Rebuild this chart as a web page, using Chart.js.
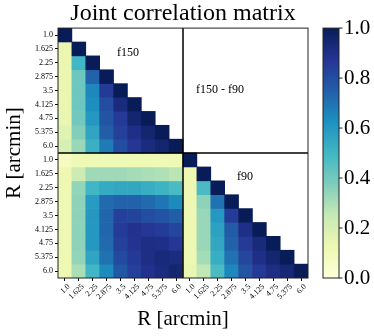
<!DOCTYPE html>
<html>
<head>
<meta charset="UTF-8">
<title>Joint correlation matrix</title>
<script src="https://cdn.jsdelivr.net/npm/chart.js"></script>
<style>
  html, body { margin: 0; padding: 0; background: #fff; }
  #wrap { width: 374px; height: 336px; }
</style>
</head>
<body>
<div id="wrap"><canvas id="myChart"></canvas></div>
<script>
// radial bins, repeated for the two frequency blocks
const radii = ['1.0', '1.625', '2.25', '2.875', '3.5', '4.125', '4.75', '5.375', '6.0'];
const tickLabels = radii.concat(radii);

// f150 x f150, lower triangle (row by row, incl. diagonal)
const f150 = [
  [1.0],
  [0.13, 1.0],
  [0.13, 0.50, 1.0],
  [0.13, 0.41, 0.74, 1.0],
  [0.13, 0.41, 0.65, 0.86, 1.0],
  [0.13, 0.41, 0.63, 0.80, 0.92, 1.0],
  [0.14, 0.40, 0.60, 0.78, 0.86, 0.95, 1.0],
  [0.17, 0.37, 0.56, 0.75, 0.84, 0.90, 0.95, 1.0],
  [0.20, 0.33, 0.52, 0.68, 0.80, 0.87, 0.92, 0.95, 1.0]
];

// f90 x f90, lower triangle
const f90 = [
  [1.0],
  [0.12, 1.0],
  [0.12, 0.48, 1.0],
  [0.12, 0.35, 0.70, 1.0],
  [0.12, 0.33, 0.60, 0.85, 1.0],
  [0.12, 0.33, 0.57, 0.76, 0.90, 1.0],
  [0.12, 0.33, 0.55, 0.74, 0.86, 0.93, 1.0],
  [0.12, 0.31, 0.53, 0.70, 0.82, 0.90, 0.95, 1.0],
  [0.14, 0.26, 0.48, 0.65, 0.78, 0.86, 0.91, 0.94, 1.0]
];

// f90 rows x f150 columns (full block)
const cross = [
  [0.07, 0.11, 0.11, 0.11, 0.11, 0.11, 0.11, 0.11, 0.11],
  [0.12, 0.23, 0.32, 0.32, 0.32, 0.31, 0.30, 0.29, 0.27],
  [0.12, 0.34, 0.50, 0.54, 0.55, 0.55, 0.53, 0.51, 0.48],
  [0.12, 0.35, 0.59, 0.72, 0.74, 0.74, 0.72, 0.69, 0.64],
  [0.12, 0.35, 0.60, 0.73, 0.84, 0.83, 0.80, 0.78, 0.75],
  [0.12, 0.35, 0.60, 0.73, 0.85, 0.89, 0.87, 0.85, 0.82],
  [0.12, 0.35, 0.60, 0.72, 0.84, 0.88, 0.91, 0.90, 0.87],
  [0.12, 0.34, 0.56, 0.70, 0.81, 0.86, 0.91, 0.93, 0.92],
  [0.12, 0.30, 0.50, 0.64, 0.77, 0.84, 0.89, 0.92, 0.95]
];

const colorbarTicks = [0, 0.2, 0.4, 0.6, 0.8, 1.0];

// YlGnBu colormap
const YLGNBU = ['#ffffd9', '#edf8b1', '#c7e9b4', '#7fcdbb', '#41b6c4', '#1d91c0', '#225ea8', '#253494', '#081d58'];
function hexRgb(h) {
  return [parseInt(h.slice(1, 3), 16), parseInt(h.slice(3, 5), 16), parseInt(h.slice(5, 7), 16)];
}
function ylgnbu(v) {
  const t = Math.max(0, Math.min(1, v)) * (YLGNBU.length - 1);
  const i = Math.min(Math.floor(t), YLGNBU.length - 2);
  const f = t - i;
  const a = hexRgb(YLGNBU[i]), b = hexRgb(YLGNBU[i + 1]);
  const c = a.map((ai, k) => Math.round(ai + (b[k] - ai) * f));
  return 'rgb(' + c.join(',') + ')';
}

// full 18x18 matrix, null = empty cell
const n = radii.length;
const matrix = tickLabels.map((_, i) => tickLabels.map((_, j) => {
  if (i < n && j < n) return j <= i ? f150[i][j] : null;
  if (i < n) return null;
  if (j < n) return cross[i - n][j];
  return j <= i ? f90[i - n][j - n] : null;
}));

const serif = "'Liberation Serif', 'DejaVu Serif', serif";

const datasets = matrix.map((row, i) => ({
  label: tickLabels[i],
  data: row.map(() => 1),
  backgroundColor: row.map(v => v === null ? 'rgba(0,0,0,0)' : ylgnbu(v)),
  borderWidth: 0,
  categoryPercentage: 1,
  barPercentage: 1,
  yAxisID: 'y'
}));

// no automatic label overflow padding around the plot
function noPad(s) {
  s.paddingTop = 0; s.paddingBottom = 0; s.paddingLeft = 0; s.paddingRight = 0;
}

const decor = {
  id: 'decor',
  afterDatasetsDraw(chart) {
    const { ctx, chartArea: a, scales: { x, y } } = chart;
    ctx.save();
    // block separators
    const xm = x.getPixelForValue(n - 0.5);
    const ym = y.getPixelForValue(n);
    ctx.strokeStyle = '#000';
    ctx.lineWidth = 1.5;
    ctx.beginPath();
    ctx.moveTo(xm, a.top); ctx.lineTo(xm, a.bottom);
    ctx.moveTo(a.left, ym); ctx.lineTo(a.right, ym);
    ctx.stroke();
    // frame
    ctx.lineWidth = 1;
    ctx.strokeStyle = '#222';
    ctx.strokeRect(a.left, a.top, a.right - a.left, a.bottom - a.top);
    // block labels
    ctx.fillStyle = '#000';
    ctx.font = '12px ' + serif;
    ctx.textAlign = 'center';
    ctx.textBaseline = 'middle';
    ctx.fillText('f150', x.getPixelForValue(4.54), y.getPixelForValue(1.8));
    ctx.fillText('f150 - f90', x.getPixelForValue(11.16), y.getPixelForValue(4.46));
    ctx.fillText('f90', x.getPixelForValue(12.96), y.getPixelForValue(10.73));
    ctx.restore();
  },
  afterDraw(chart) {
    const { ctx, chartArea: a, scales: { cb } } = chart;
    const left = a.right + 15, w = 16;
    const top = cb.getPixelForValue(1), bottom = cb.getPixelForValue(0);
    ctx.save();
    const g = ctx.createLinearGradient(0, bottom, 0, top);
    YLGNBU.forEach((c, i) => g.addColorStop(i / (YLGNBU.length - 1), c));
    ctx.fillStyle = g;
    ctx.fillRect(left, top, w, bottom - top);
    ctx.strokeStyle = '#222';
    ctx.lineWidth = 1;
    ctx.strokeRect(left, top, w, bottom - top);
    ctx.beginPath();
    colorbarTicks.forEach(v => {
      const py = cb.getPixelForValue(v);
      ctx.moveTo(left + w, py); ctx.lineTo(left + w + 3.5, py);
    });
    ctx.stroke();
    ctx.restore();
  }
};

new Chart(document.getElementById('myChart'), {
  type: 'bar',
  data: { labels: tickLabels, datasets: datasets },
  options: {
    responsive: true,
    maintainAspectRatio: false,
    animation: false,
    layout: { padding: 0 },
    plugins: {
      legend: { display: false },
      tooltip: { enabled: false },
      title: {
        display: true,
        text: 'Joint correlation matrix',
        fullSize: false,
        color: '#000',
        font: { family: serif, size: 24, weight: 'normal', lineHeight: 1.15 },
        padding: { top: 0, bottom: 0.5 }
      }
    },
    scales: {
      x: {
        type: 'category',
        stacked: true,
        grid: { offset: false, drawOnChartArea: false, tickLength: 3, color: '#000' },
        border: { display: false },
        ticks: {
          autoSkip: false, maxRotation: 45, minRotation: 45,
          labelOffset: 4, padding: 1, color: '#000',
          font: { family: serif, size: 8 }
        },
        title: { display: true, text: 'R [arcmin]', color: '#000', font: { family: serif, size: 21 }, padding: { top: 0, bottom: 4 } },
        afterFit: s => { s.height = 58; noPad(s); }
      },
      y: {
        type: 'linear',
        stacked: true,
        reverse: true,
        min: 0,
        max: tickLabels.length,
        afterBuildTicks: s => { s.ticks = tickLabels.map((_, i) => ({ value: i + 0.5 })); },
        grid: { drawOnChartArea: false, tickLength: 3, color: '#000' },
        border: { display: false },
        ticks: {
          autoSkip: false, padding: 2, color: '#000',
          font: { family: serif, size: 8 },
          callback: v => tickLabels[Math.floor(v)]
        },
        title: { display: true, text: 'R [arcmin]', color: '#000', font: { family: serif, size: 21 }, padding: { top: 2, bottom: 0 } },
        afterFit: s => { s.width = 58; noPad(s); }
      },
      cb: {
        type: 'linear',
        position: 'right',
        min: 0,
        max: 1,
        afterBuildTicks: s => { s.ticks = colorbarTicks.map(v => ({ value: v })); },
        grid: { display: false, drawTicks: false },
        border: { display: false },
        ticks: {
          padding: 36, color: '#000',
          font: { family: serif, size: 21 },
          callback: v => v.toFixed(1)
        },
        afterFit: s => { s.width = 66; noPad(s); }
      }
    }
  },
  plugins: [decor]
});
</script>
</body>
</html>
